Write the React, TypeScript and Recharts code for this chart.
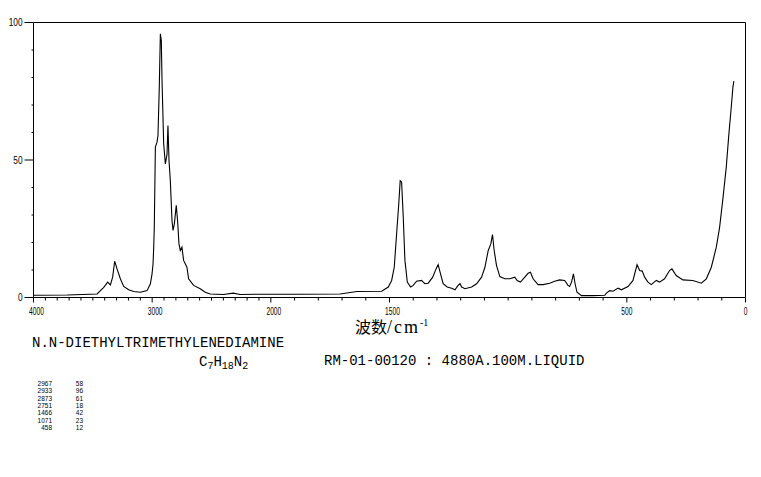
import { LineChart, Line, XAxis, YAxis, ReferenceLine } from "recharts";

// wavenumber (cm-1) of each traced point, high to low
const wavenumbers = [
  4000, 3716, 3464, 3436, 3408, 3375, 3352, 3333, 3316, 3296, 3268, 3240, 3198, 3156, 3100, 3043, 3015, 3001,
  2993, 2988, 2982, 2973, 2959, 2951, 2940, 2931, 2923, 2917, 2903, 2889, 2875, 2867, 2858, 2847, 2833, 2824,
  2813, 2797, 2786, 2774, 2763, 2749, 2735, 2707, 2693, 2651, 2595, 2553, 2511, 2400, 2317, 2258, 2090, 1876,
  1708, 1637, 1533, 1505, 1491, 1480, 1470, 1461, 1455, 1449, 1442, 1435, 1425, 1411, 1400, 1386, 1365, 1351,
  1337, 1318, 1304, 1295, 1285, 1274, 1257, 1238, 1224, 1211, 1203, 1196, 1182, 1154, 1133, 1112, 1098, 1084,
  1073, 1066, 1059, 1049, 1035, 1014, 993, 972, 962, 948, 930, 916, 906, 895, 874, 853, 825, 804, 783, 762,
  748, 741, 733, 725, 718, 710, 691, 643, 593, 586, 572, 558, 537, 523, 495, 474, 457, 446, 435, 425, 411,
  397, 376, 362, 341, 320, 310, 292, 264, 222, 186, 165, 144, 123, 109, 96, 81, 70, 60, 53, 49,
];

// relative intensity at each of those points
const intensity = [
  0.8, 0.9, 1.3, 2.5, 3.7, 5.6, 4.6, 7.4, 13.2, 10.4, 6.8, 4.0, 2.8, 2.2, 1.9, 2.5, 5.0, 8.6,
  12, 17, 25.6, 54.7, 56.5, 58.9, 76.5, 95.9, 93.5, 79, 55.9, 48.6, 52, 62.5, 49.8, 42.5, 28, 24.4,
  26.8, 33.5, 28, 19.5, 17.1, 18.3, 13.5, 11, 6.8, 4.4, 3.2, 1.9, 1.3, 1.1, 1.6, 1.1, 1.2, 1.2,
  1.3, 2.2, 2.3, 3.8, 6.2, 11, 23.2, 34, 42.5, 42, 29.2, 13.5, 5.6, 3.8, 4.4, 5.9, 6.2, 5,
  5.2, 7.4, 10.4, 12, 8.6, 5, 3.8, 3.4, 2.8, 4.4, 5, 3.8, 3.2, 3.8, 5, 7.4, 11, 17.1,
  19.5, 22.9, 17.1, 11.6, 7.6, 6.8, 6.8, 7.4, 6.2, 5.6, 7.4, 8.8, 9.2, 6.8, 4.7, 4.7, 5.2, 5.9, 6.4, 6.2,
  4.4, 4, 5.6, 8.6, 5, 1.9, 0.7, 0.7, 0.8, 1.6, 2.5, 2.3, 3.4, 2.8, 4, 6.2, 11.9, 9.8, 9.6, 7.4, 5.6,
  4.7, 6.2, 5.6, 6.8, 9.8, 10.4, 8, 6.4, 6.2, 5.2, 6.8, 11, 18.3, 25.6, 35.3, 47.4, 59.5, 69.2, 76.5, 78.7,
];

const xLabels = [4000, 3000, 2000, 1500, 500, 0];
const yTicks = [0, 10, 20, 30, 40, 50, 60, 70, 80, 90, 100];
const yLabels = [0, 50, 100];

const peakWavenumbers = ["2967", "2933", "2873", "2751", "1466", "1071", "458"];
const peakIntensities = ["58", "96", "61", "18", "42", "23", "12"];

// the axis is squeezed to half scale above 2000 cm-1
const toAxis = (wn: number) => (wn <= 2000 ? wn : 2000 + (wn - 2000) / 2);
const fromAxis = (v: number) => Math.round(v <= 2000 ? v : 2000 + (v - 2000) * 2);

const xTicks: number[] = [];
for (let wn = 0; wn <= 4000; wn += 100) xTicks.push(toAxis(wn));

const data = wavenumbers.map((wn, i) => ({ x: toAxis(wn), y: intensity[i] }));

const pixelFont = "'Liberation Sans', Arial, sans-serif";
const monoFont = "'Liberation Mono', 'DejaVu Sans Mono', monospace";

function XTick(props: any) {
  const { x, y, payload } = props;
  const wn = fromAxis(payload.value);
  const major = xLabels.includes(wn);
  const label = String(wn);
  return (
    <g>
      <line x1={x} x2={x} y1={y} y2={y + (major ? 5 : 3)} stroke="#000" strokeWidth={1} />
      {major && (
        <text
          x={x + (wn >= 1500 ? 3 : 0)}
          y={y + 17}
          textAnchor="middle"
          fontSize={10}
          fontFamily={pixelFont}
          textLength={label.length * 3.7}
          lengthAdjust="spacingAndGlyphs"
          fill="#000"
        >
          {label}
        </text>
      )}
    </g>
  );
}

function YTick(props: any) {
  const { x, y, payload } = props;
  const major = yLabels.includes(payload.value);
  const label = String(payload.value);
  return (
    <g>
      <line x1={x - (major ? 9 : 2)} x2={x} y1={y} y2={y} stroke="#000" strokeWidth={1} />
      {major && (
        <text
          x={x - 11}
          y={y + 3.5}
          textAnchor="end"
          fontSize={10}
          fontFamily={pixelFont}
          textLength={label.length * 4.6}
          lengthAdjust="spacingAndGlyphs"
          fill="#000"
        >
          {label}
        </text>
      )}
    </g>
  );
}

export default function App() {
  return (
    <div style={{ position: "absolute", left: 0, top: 0, width: 761, height: 477, background: "#fff" }}>
      <LineChart
        width={761}
        height={477}
        data={data}
        margin={{ top: 22.5, right: 15.5, bottom: 0, left: 0 }}
      >
        <XAxis
          dataKey="x"
          type="number"
          domain={[0, 3000]}
          reversed
          ticks={xTicks}
          interval={0}
          tickSize={0}
          tickMargin={0}
          tickLine={false}
          height={179.5}
          axisLine={{ stroke: "#000", strokeWidth: 1 }}
          tick={(p: any) => <XTick {...p} />}
        />
        <YAxis
          type="number"
          domain={[0, 100]}
          ticks={yTicks}
          interval={0}
          tickSize={0}
          tickMargin={0}
          tickLine={false}
          width={33.5}
          axisLine={{ stroke: "#000", strokeWidth: 1 }}
          tick={(p: any) => <YTick {...p} />}
        />
        <ReferenceLine y={100} stroke="#000" strokeWidth={1} />
        <ReferenceLine x={0} stroke="#000" strokeWidth={1} />
        <Line
          type="linear"
          dataKey="y"
          stroke="#000"
          strokeWidth={1.1}
          dot={false}
          isAnimationActive={false}
        />
      </LineChart>

      <svg
        width={761}
        height={477}
        style={{ position: "absolute", left: 0, top: 0, pointerEvents: "none" }}
      >
        <text x={355} y={333} fontSize={16} fill="#000">
          <tspan fontFamily="'Noto Sans CJK SC', sans-serif">波数</tspan>
          <tspan fontFamily="'Liberation Serif', serif" fontSize={18} letterSpacing={2}>/cm</tspan>
          <tspan fontFamily="'Liberation Serif', serif" fontSize={10} dy={-7}>-1</tspan>
        </text>

        <text x={32} y={347} fontSize={14} fontFamily={monoFont} fill="#000">
          N.N-DIETHYLTRIMETHYLENEDIAMINE
        </text>

        <text x={199} y={366} fontSize={14} fontFamily={monoFont} fill="#000">
          <tspan>C</tspan>
          <tspan fontSize={10} dy={3}>7</tspan>
          <tspan dy={-3}>H</tspan>
          <tspan fontSize={10} dy={3}>18</tspan>
          <tspan dy={-3}>N</tspan>
          <tspan fontSize={10} dy={3}>2</tspan>
        </text>

        <text x={324} y={365} fontSize={14} fontFamily={monoFont} fill="#000">
          RM-01-00120 : 4880A.100M.LIQUID
        </text>

        {peakWavenumbers.map((wn, i) => (
          <g key={wn}>
            <text
              x={52}
              y={386 + i * 7.3}
              textAnchor="end"
              fontSize={6.3}
              fontFamily={pixelFont}
              textLength={wn.length * 3.6}
              lengthAdjust="spacingAndGlyphs"
              fill="#000"
            >
              {wn}
            </text>
            <text
              x={83}
              y={386 + i * 7.3}
              textAnchor="end"
              fontSize={6.3}
              fontFamily={pixelFont}
              textLength={peakIntensities[i].length * 3.6}
              lengthAdjust="spacingAndGlyphs"
              fill="#000"
            >
              {peakIntensities[i]}
            </text>
          </g>
        ))}
      </svg>
    </div>
  );
}
